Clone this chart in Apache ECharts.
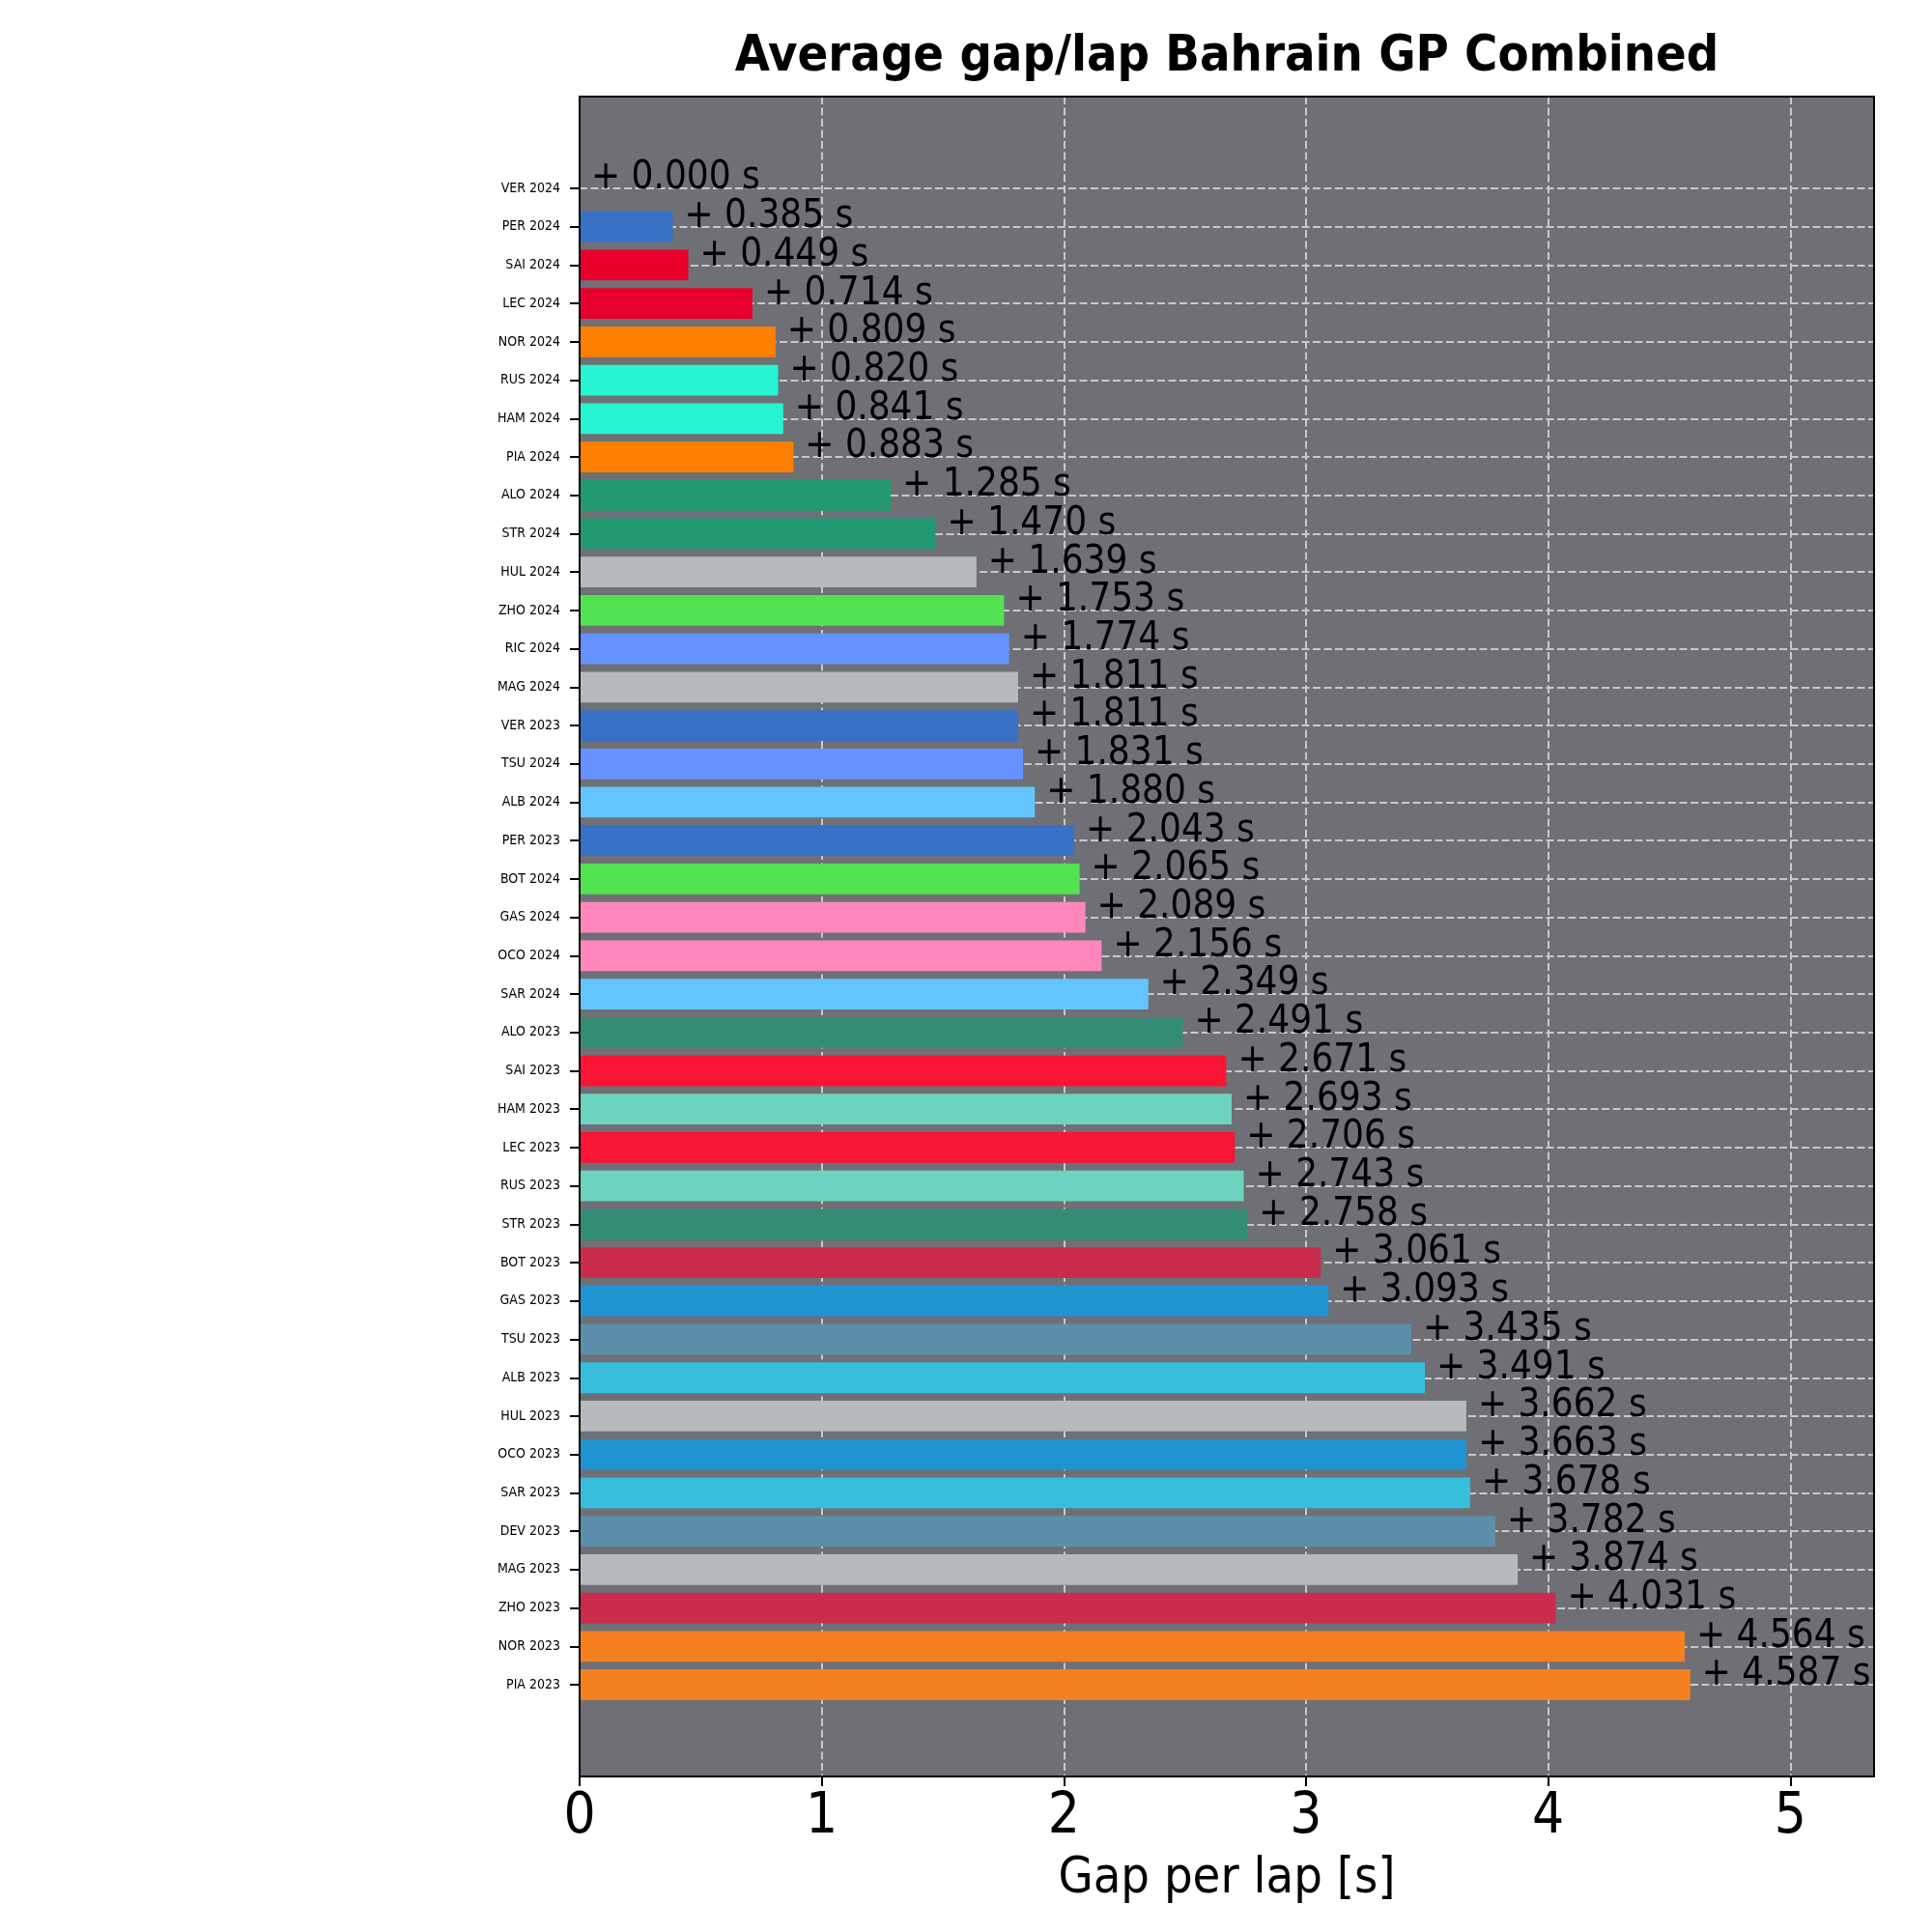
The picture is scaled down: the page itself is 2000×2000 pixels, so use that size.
<!DOCTYPE html>
<html>
<head>
<meta charset="utf-8">
<title>Average gap/lap Bahrain GP Combined</title>
<script src="https://cdn.jsdelivr.net/npm/echarts@6/dist/echarts.min.js"></script>
<style>
  html, body { margin: 0; padding: 0; background: #ffffff; }
  #chart { width: 2000px; height: 2000px; }
</style>
</head>
<body>
<div id="chart"></div>
<script>
const DRIVERS = [
  "VER 2024", "PER 2024", "SAI 2024", "LEC 2024", "NOR 2024", "RUS 2024", "HAM 2024", "PIA 2024",
  "ALO 2024", "STR 2024", "HUL 2024", "ZHO 2024", "RIC 2024", "MAG 2024", "VER 2023", "TSU 2024",
  "ALB 2024", "PER 2023", "BOT 2024", "GAS 2024", "OCO 2024", "SAR 2024", "ALO 2023", "SAI 2023",
  "HAM 2023", "LEC 2023", "RUS 2023", "STR 2023", "BOT 2023", "GAS 2023", "TSU 2023", "ALB 2023",
  "HUL 2023", "OCO 2023", "SAR 2023", "DEV 2023", "MAG 2023", "ZHO 2023", "NOR 2023", "PIA 2023",
];

const GAPS = [
  0.000, 0.385, 0.449, 0.714, 0.809, 0.820, 0.841, 0.883,
  1.285, 1.470, 1.639, 1.753, 1.774, 1.811, 1.811, 1.831,
  1.880, 2.043, 2.065, 2.089, 2.156, 2.349, 2.491, 2.671,
  2.693, 2.706, 2.743, 2.758, 3.061, 3.093, 3.435, 3.491,
  3.662, 3.663, 3.678, 3.782, 3.874, 4.031, 4.564, 4.587,
];

const TEAM_COLORS = [
  "#3671C6", "#3671C6", "#E8002D", "#E8002D", "#FF8000", "#27F4D2", "#27F4D2", "#FF8000",
  "#229971", "#229971", "#B6BABD", "#52E252", "#6692FF", "#B6BABD", "#3671C6", "#6692FF",
  "#64C4FF", "#3671C6", "#52E252", "#FF87BC", "#FF87BC", "#64C4FF", "#358C75", "#F91536",
  "#6CD3BF", "#F91536", "#6CD3BF", "#358C75", "#C92D4B", "#2293D1", "#5E8FAA", "#37BEDD",
  "#B6BABD", "#2293D1", "#37BEDD", "#5E8FAA", "#B6BABD", "#C92D4B", "#F58020", "#F58020",
];

const X_TICKS = [0, 1, 2, 3, 4, 5];
const X_MAX = 5.346;

const FONT = "'DejaVu Sans Condensed', 'DejaVu Sans', sans-serif";
const GRID_LINE = { color: "#C8C8C8", width: 2, type: [8, 3.5] };

const chart = echarts.init(document.getElementById("chart"), null, { renderer: "canvas" });

// grid 0: frame + x axis, grid 1: bars on category axis,
// grid 2: horizontal grid lines at bar centres, grid 3: black frame on top
const frame = { left: 600, right: 60, top: 100, bottom: 161 };
const pad = 95;
const band = (2000 - frame.top - frame.bottom - 2 * pad) / (DRIVERS.length - 1);

chart.setOption({
  animation: false,
  backgroundColor: "#ffffff",
  graphic: [
    {
      type: "text",
      x: 1270,
      y: 59,
      style: {
        text: "Average gap/lap Bahrain GP Combined",
        font: `bold 52px ${FONT}`,
        fill: "#000000",
        align: "center",
        verticalAlign: "middle",
      },
    },
  ],
  grid: [
    {
      ...frame,
      show: true,
      z: -1,
      backgroundColor: "#6E7075",
      borderWidth: 0,
    },
    {
      left: frame.left,
      right: frame.right,
      top: frame.top + pad - band / 2,
      bottom: frame.bottom + pad - band / 2,
    },
    {
      left: frame.left,
      right: frame.right,
      top: frame.top + pad,
      bottom: frame.bottom + pad,
    },
    {
      ...frame,
      show: true,
      z: 5,
      backgroundColor: "transparent",
      borderColor: "#000000",
      borderWidth: 2,
    },
  ],
  xAxis: [
    {
      gridIndex: 0,
      type: "value",
      min: 0,
      max: X_MAX,
      interval: 1,
      name: "Gap per lap [s]",
      nameLocation: "middle",
      nameGap: 80,
      nameTextStyle: { color: "#000000", fontSize: 52, fontFamily: FONT },
      axisLine: { show: true, lineStyle: { color: "#000000", width: 2 } },
      axisTick: { show: true, customValues: X_TICKS, length: 10, lineStyle: { color: "#000000", width: 2 } },
      axisLabel: { customValues: X_TICKS, margin: 14, color: "#000000", fontSize: 58, fontFamily: FONT },
      splitLine: { show: true, lineStyle: GRID_LINE },
    },
    { gridIndex: 1, type: "value", min: 0, max: X_MAX, show: false },
    { gridIndex: 2, type: "value", min: 0, max: X_MAX, show: false },
    { gridIndex: 3, type: "value", min: 0, max: X_MAX, show: false },
  ],
  yAxis: [
    { gridIndex: 0, type: "value", show: false, min: 0, max: 1 },
    {
      gridIndex: 1,
      type: "category",
      inverse: true,
      data: DRIVERS,
      axisLine: { show: false },
      axisTick: { show: true, alignWithLabel: true, length: 10, lineStyle: { color: "#000000", width: 2 } },
      axisLabel: { margin: 20, color: "#000000", fontSize: 14, fontFamily: FONT, interval: 0 },
      splitLine: { show: false },
    },
    {
      gridIndex: 2,
      type: "value",
      inverse: true,
      min: 0,
      max: DRIVERS.length - 1,
      interval: 1,
      axisLine: { show: false },
      axisTick: { show: false },
      axisLabel: { show: false },
      splitLine: { show: true, lineStyle: GRID_LINE },
    },
    { gridIndex: 3, type: "value", show: false, min: 0, max: 1 },
  ],
  series: [
    {
      type: "bar",
      xAxisIndex: 1,
      yAxisIndex: 1,
      barWidth: "80%",
      data: GAPS.map((gap, i) => ({ value: gap, itemStyle: { color: TEAM_COLORS[i] } })),
      label: {
        show: true,
        position: "right",
        distance: 0,
        offset: [12, -10],
        color: "#000000",
        fontSize: 40,
        fontFamily: FONT,
        formatter: (p) => `+ ${Number(p.value).toFixed(3)} s`,
      },
    },
  ],
});
</script>
</body>
</html>
